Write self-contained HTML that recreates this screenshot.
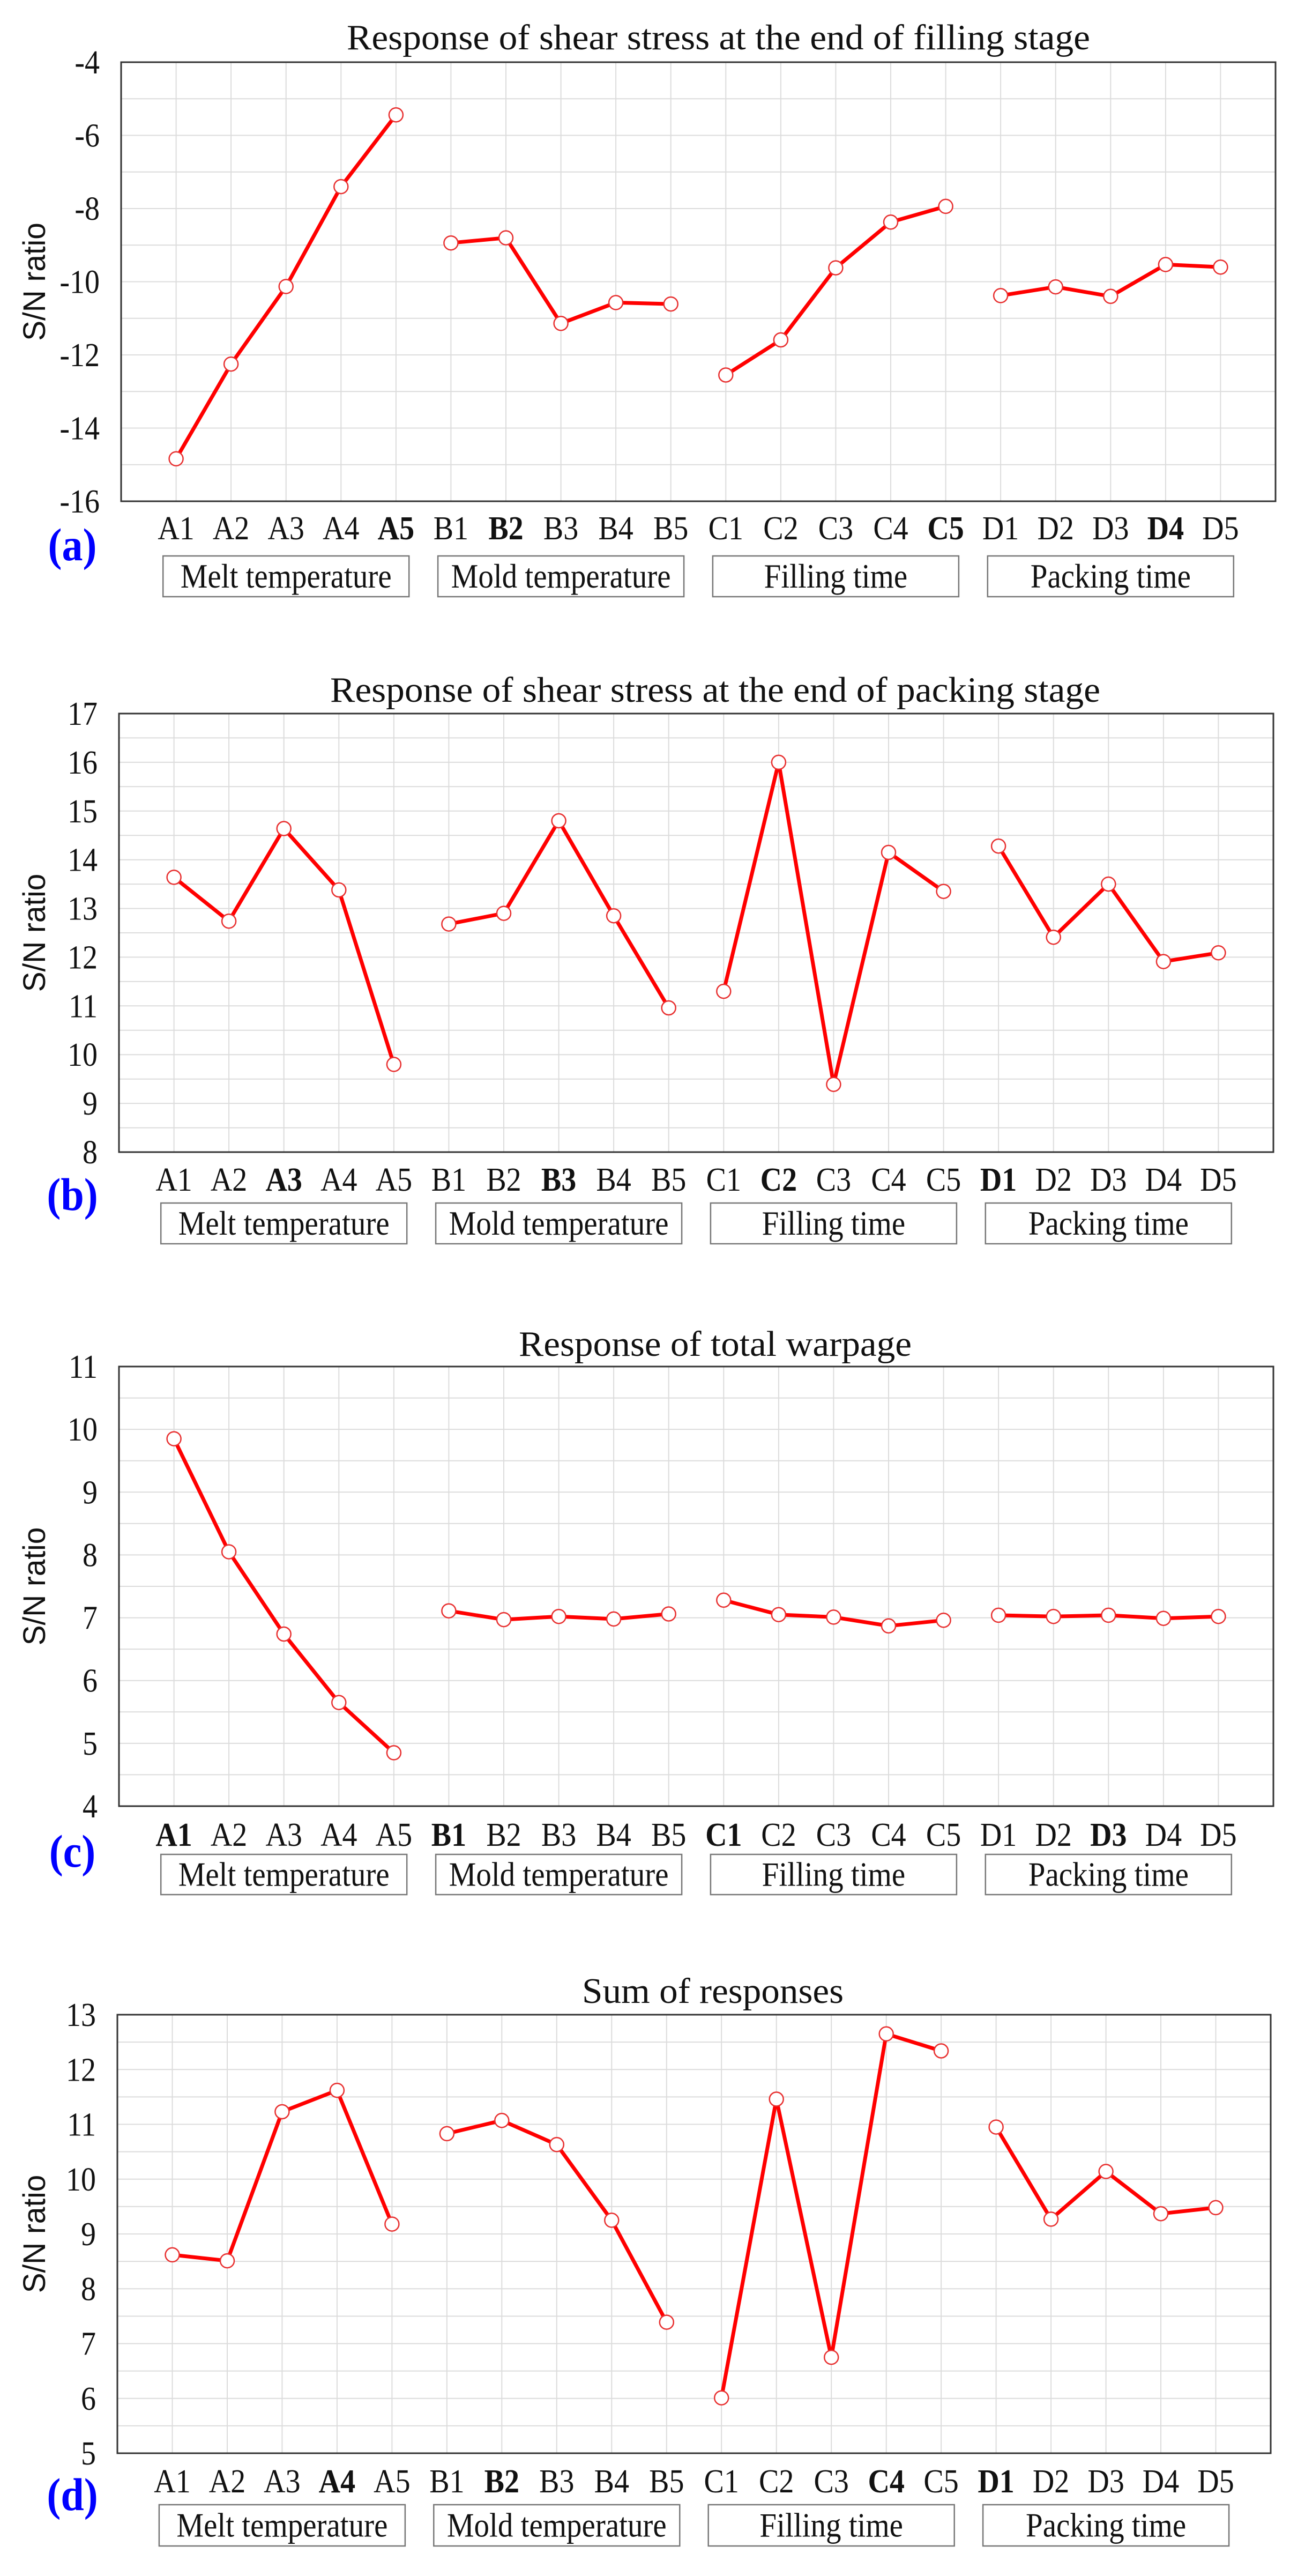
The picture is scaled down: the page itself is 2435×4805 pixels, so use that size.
<!DOCTYPE html>
<html><head><meta charset="utf-8">
<style>
html,body{margin:0;padding:0;background:#fff;}
svg{display:block;}
text{font-family:"Liberation Serif","Times New Roman",serif;fill:#111;}
.sans{font-family:"Liberation Sans",Arial,sans-serif;}
</style></head>
<body>
<svg id="s" xmlns="http://www.w3.org/2000/svg" width="2435" height="4805" viewBox="0 0 2435 4805"></svg>
<script>
const charts=[
 {title:"Response of shear stress at the end of filling stage",tw:1387,tx:647,ty:70,L:226,R:2380,T:116,B:935,min:-16,max:-4,g:1,ls:2,
  lab:50,bt:102,bb:178,let:"(a)",ly:1017,bold:["A5","B2","C5","D4"],
  v:[-14.84,-12.25,-10.13,-7.4,-5.44,-8.94,-8.8,-11.14,-10.57,-10.61,-12.55,-11.59,-9.62,-8.37,-7.94,-10.38,-10.14,-10.4,-9.53,-9.6]},
 {title:"Response of shear stress at the end of packing stage",tw:1437,tx:616,ty:1287,L:222,R:2376,T:1331,B:2149,min:8,max:17,g:0.5,ls:1,
  lab:51,bt:95,bb:171,let:"(b)",ly:2229,bold:["A3","B3","C2","D1"],
  v:[13.64,12.74,14.64,13.38,9.8,12.68,12.9,14.8,12.85,10.96,11.3,16.0,9.39,14.15,13.35,14.28,12.41,13.5,11.91,12.09]},
 {title:"Response of total warpage",tw:733,tx:968,ty:2507,L:222,R:2376,T:2549,B:3369,min:4,max:11,g:0.5,ls:1,
  lab:53,bt:90,bb:165,let:"(c)",ly:3454,bold:["A1","B1","C1","D3"],
  v:[9.85,8.05,6.74,5.65,4.85,7.11,6.97,7.02,6.98,7.06,7.28,7.05,7.01,6.87,6.96,7.04,7.02,7.04,6.99,7.02]},
 {title:"Sum of responses",tw:488,tx:1086,ty:3714,L:219,R:2371,T:3758,B:4576,min:5,max:13,g:0.5,ls:1,
  lab:52,bt:96,bb:173,let:"(d)",ly:4654,bold:["A4","B2","C4","D1"],
  v:[8.62,8.51,11.23,11.62,9.18,10.83,11.07,10.63,9.25,7.39,6.01,11.46,6.75,12.65,12.34,10.95,9.27,10.14,9.37,9.48]}
];
const cats=[];["A","B","C","D"].forEach(g=>{for(let i=1;i<=5;i++)cats.push(g+i);});
const groups=["Melt temperature","Mold temperature","Filling time","Packing time"];
const SY=1.12;
function T(x,y,txt,attrs,cls){return `<text${cls?' class="'+cls+'"':''} x="0" y="0" transform="translate(${(+x).toFixed(1)} ${(+y).toFixed(1)}) scale(1 ${SY})" ${attrs}>${txt}</text>`;}
let h="";
charts.forEach(c=>{
 const W=(c.R-c.L)/21, X=i=>c.L+(i+1)*W, Y=v=>c.T+(c.max-v)/(c.max-c.min)*(c.B-c.T);
 for(let v=c.min+c.g;v<c.max-1e-6;v+=c.g){const y=Y(v).toFixed(1);h+=`<line x1="${c.L}" y1="${y}" x2="${c.R}" y2="${y}" stroke="#dcdcdc" stroke-width="2"/>`;}
 for(let i=0;i<20;i++){const x=X(i).toFixed(1);h+=`<line x1="${x}" y1="${c.T}" x2="${x}" y2="${c.B}" stroke="#dcdcdc" stroke-width="2"/>`;}
 h+=`<rect x="${c.L}" y="${c.T}" width="${c.R-c.L}" height="${c.B-c.T}" fill="none" stroke="#333" stroke-width="3"/>`;
 for(let v=c.min;v<=c.max+1e-6;v+=c.ls){h+=T(c.L-40,Y(v)+21,v,'font-size="56" text-anchor="end"');}
 const my=(c.T+c.B)/2;
 h+=`<text class="sans" x="0" y="0" font-size="54" text-anchor="middle" transform="translate(84 ${my}) rotate(-90) scale(1.05 1.08)">S/N ratio</text>`;
 h+=`<text x="0" y="0" transform="translate(${c.tx} ${c.ty+22}) scale(1 ${SY})" font-size="60" textLength="${c.tw}" lengthAdjust="spacingAndGlyphs">${c.title}</text>`;
 for(let gI=0;gI<4;gI++){
  let pts=[];for(let k=0;k<5;k++){const i=gI*5+k;pts.push(X(i).toFixed(1)+","+Y(c.v[i]).toFixed(1));}
  h+=`<polyline points="${pts.join(" ")}" fill="none" stroke="#ff0000" stroke-width="7" stroke-linejoin="round"/>`;
 }
 for(let i=0;i<20;i++){h+=`<circle cx="${X(i).toFixed(1)}" cy="${Y(c.v[i]).toFixed(1)}" r="13" fill="#fff" stroke="#e83030" stroke-width="2.5"/>`;}
 for(let i=0;i<20;i++){const b=c.bold.includes(cats[i]);
  h+=T(X(i),c.B+c.lab+21,cats[i],'font-size="56" text-anchor="middle"'+(b?' font-weight="bold"':''));}
 for(let gI=0;gI<4;gI++){const cx=X(gI*5+2);const bw=459;
  h+=`<rect x="${(cx-bw/2).toFixed(1)}" y="${c.B+c.bt}" width="${bw}" height="${c.bb-c.bt}" fill="#fff" stroke="#777" stroke-width="2.5"/>`;
  h+=T(cx,c.B+(c.bt+c.bb)/2+21,groups[gI],'font-size="57" text-anchor="middle"');}
 h+=`<text x="0" y="0" transform="translate(135 ${c.ly+28}) scale(1 1.1)" font-size="78" font-weight="bold" text-anchor="middle" style="fill:#0000ff">${c.let}</text>`;
});
document.getElementById("s").innerHTML=h;
</script>
</body></html>
